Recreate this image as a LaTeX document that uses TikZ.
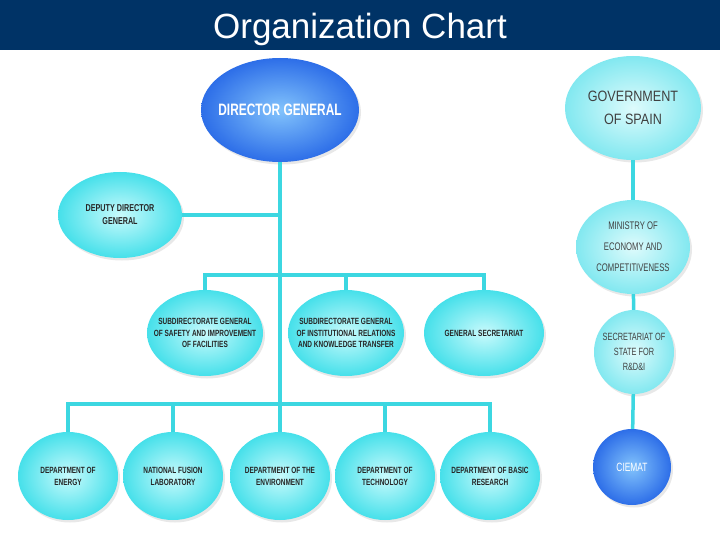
\documentclass[tikz,border=0pt]{standalone}
\usepackage{fontspec}
\setmainfont{Liberation Sans}
\newfontfamily\condfont{Liberation Sans}[FakeStretch=0.72]
\newfontfamily\narrowfont{Liberation Sans}[FakeStretch=0.7]
\newfontfamily\govfont{Liberation Sans}[FakeStretch=0.84]
\usetikzlibrary{positioning, shapes.geometric, shadows}
\definecolor{barblue}{RGB}{0,51,102}
\definecolor{linecyan}{RGB}{60,215,225}
\definecolor{ovalin}{RGB}{200,250,252}
\definecolor{ovalout}{RGB}{70,224,234}
\definecolor{govin}{RGB}{222,251,252}
\definecolor{govout}{RGB}{130,232,240}
\definecolor{bluein}{RGB}{130,195,252}
\definecolor{blueout}{RGB}{45,110,232}
\tikzset{
  conn/.style={draw=linecyan, line width=3.5pt},
  oval/.style={ellipse, inner xsep=-15pt, inner ysep=0pt, shading=radial, inner color=ovalin, outer color=ovalout,
    drop shadow={opacity=0.18, shadow xshift=2pt, shadow yshift=-2.5pt}, align=center, text=black!85},
  blueoval/.style={oval, inner color=bluein, outer color=blueout, text=white},
  pale/.style={oval, inner color=govin, outer color=govout, text=black!75},
  dept/.style={oval, minimum width=100pt, minimum height=88pt,
    font=\condfont\bfseries\fontsize{9}{12}\selectfont},
  subd/.style={oval, minimum width=116pt, minimum height=86pt,
    font=\condfont\bfseries\fontsize{9}{11.8}\selectfont}
}

\begin{document}
\begin{tikzpicture}[x=1pt, y=-1pt]
\useasboundingbox (0,0) rectangle (720,540);
\fill[white] (0,0) rectangle (720,540);
\fill[barblue] (0,0) rectangle (720,50);
\node[anchor=base, text=white, font=\fontsize{35}{40}\selectfont] (title) at (360,39) {Organization Chart};

% left side: CIEMAT structure
\node[blueoval, minimum width=158pt, minimum height=104pt,
  font=\condfont\bfseries\fontsize{16.5}{18}\selectfont] (dir) at (280,110) {DIRECTOR GENERAL};
\node[oval, minimum width=124pt, minimum height=86pt,
  font=\condfont\bfseries\fontsize{10}{13}\selectfont] (dep) at (120,215) {DEPUTY DIRECTOR\\GENERAL};

\node[subd] (sub1) at (205,333) {SUBDIRECTORATE GENERAL\\OF SAFETY AND IMPROVEMENT\\OF FACILITIES};
\node[subd] (sub2) at (346,333) {SUBDIRECTORATE GENERAL\\OF INSTITUTIONAL RELATIONS\\AND KNOWLEDGE TRANSFER};
\node[subd, minimum width=120pt] (sub3) at (484,333) {GENERAL SECRETARIAT};

\node[dept] (d1) at (68,476) {DEPARTMENT OF\\ENERGY};
\node[dept] (d2) at (173,476) {NATIONAL FUSION\\LABORATORY};
\node[dept] (d3) at (280,476) {DEPARTMENT OF THE\\ENVIRONMENT};
\node[dept] (d4) at (385,476) {DEPARTMENT OF\\TECHNOLOGY};
\node[dept] (d5) at (490,476) {DEPARTMENT OF BASIC\\RESEARCH};

\coordinate (j1) at (280,275);
\coordinate (j2) at (280,404);

\draw[conn] (dir) -- (j2);
\draw[conn] (dep) -- (dep -| j1);
\draw[conn] (sub1) |- (j1) -| (sub3);
\draw[conn] (sub2) -- (sub2 |- j1);
\draw[conn] (d1) |- (j2) -| (d5);
\draw[conn] (d2) -- (d2 |- j2);
\draw[conn] (d3) -- (j2);
\draw[conn] (d4) -- (d4 |- j2);

% right side: ministry chain
\node[pale, minimum width=136pt, minimum height=104pt,
  font=\govfont\fontsize{15}{23}\selectfont] (govt) at (633,108) {GOVERNMENT\\OF SPAIN};
\node[pale, minimum width=114pt, minimum height=94pt,
  font=\narrowfont\fontsize{11}{21}\selectfont] (min) at (633,247) {MINISTRY OF\\ECONOMY AND\\COMPETITIVENESS};
\node[pale, minimum width=80pt, minimum height=84pt,
  font=\narrowfont\fontsize{10.5}{15}\selectfont] (sec) at (634,352) {SECRETARIAT OF\\STATE FOR\\R\&D\&I};
\node[blueoval, minimum width=78pt, minimum height=76pt,
  font=\narrowfont\fontsize{12}{13}\selectfont] (ciemat) at (632,467) {CIEMAT};

\draw[conn] (govt) -- (min);
\draw[conn] (min) -- (sec);
\draw[conn] (sec) -- (ciemat);
\end{tikzpicture}
\end{document}
